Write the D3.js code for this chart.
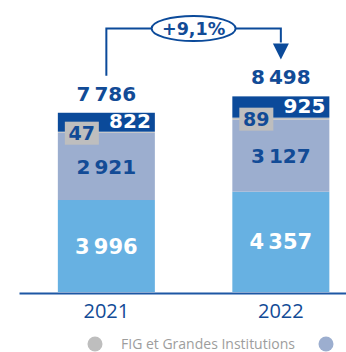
<!DOCTYPE html>
<html>
<head>
<meta charset="utf-8">
<script src="https://cdn.jsdelivr.net/npm/d3@7"></script>
<style>
  html, body { margin: 0; padding: 0; background: #fff; }
  svg { display: block; }
</style>
</head>
<body>
<svg id="chart" width="346" height="352"></svg>
<script>
// Stacked totals per year, bottom segment first
const years = ["2021", "2022"];
const bottomValues = [3996, 4357];
const middleValues = [2921, 3127];
const figValues = [47, 89];
const topValues = [822, 925];
const totals = [7786, 8498];
const growthLabel = "+9,1%";
const legendLabels = ["FIG et Grandes Institutions", ""];

const colors = {
  bottom: "#67b1e2",
  middle: "#9caecf",
  fig: "#bebebe",
  top: "#0b4a9a",
  text: "#124b96",
  axis: "#1d57a4",
  legendText: "#9d9d9d"
};
const boldFont = "'DejaVu Sans', sans-serif";
const regularFont = "'Open Sans', sans-serif";

const fr = d3.formatLocale({ decimal: ",", thousands: "\u2009", grouping: [3], currency: ["", " €"] });
const fmt = fr.format(",d");

const svg = d3.select("#chart");
const baseY = 292;

const x = d3.scaleBand()
  .domain(years)
  .range([19, 346])
  .paddingInner(0.444)
  .paddingOuter(0.159)
  .align(0.70);

const y = d3.scaleLinear()
  .domain([0, 9000])
  .range([baseY, baseY - 9000 * 0.02302]);

const keys = ["bottom", "middle", "fig", "top"];
const rows = years.map((yr, i) => ({
  year: yr,
  bottom: bottomValues[i],
  middle: middleValues[i],
  fig: figValues[i],
  top: topValues[i],
  total: totals[i]
}));

const stacked = d3.stack().keys(keys)(rows);

// Bar segments
svg.append("g")
  .selectAll("g")
  .data(stacked)
  .join("g")
  .attr("fill", d => colors[d.key])
  .selectAll("rect")
  .data(d => d)
  .join("rect")
  .attr("x", d => x(d.data.year))
  .attr("width", x.bandwidth())
  .attr("y", d => y(d[1]))
  .attr("height", d => y(d[0]) - y(d[1]));

const byKey = Object.fromEntries(stacked.map(s => [s.key, s]));

// Labels centred in the two large segments
function centreLabels(key, fill, size) {
  svg.append("g")
    .selectAll("text")
    .data(byKey[key])
    .join("text")
    .attr("x", d => x(d.data.year) + x.bandwidth() / 2)
    .attr("y", d => (y(d[0]) + y(d[1])) / 2)
    .attr("dy", "0.36em")
    .attr("text-anchor", "middle")
    .attr("font-family", boldFont)
    .attr("font-weight", "bold")
    .attr("font-size", size)
    .attr("fill", fill)
    .text(d => fmt(d.data[key]));
}
centreLabels("bottom", "#ffffff", 21);
centreLabels("middle", colors.text, 20);

// Top segment label, right aligned
svg.append("g")
  .selectAll("text")
  .data(byKey.top)
  .join("text")
  .attr("x", d => x(d.data.year) + x.bandwidth() - 4)
  .attr("y", d => (y(d[0]) + y(d[1])) / 2 - 1)
  .attr("dy", "0.36em")
  .attr("text-anchor", "end")
  .attr("font-family", boldFont)
  .attr("font-weight", "bold")
  .attr("font-size", 20)
  .attr("fill", "#ffffff")
  .text(d => fmt(d.data.top));

// FIG tag: small grey box with its value
const figTag = svg.append("g")
  .selectAll("g")
  .data(byKey.fig)
  .join("g")
  .attr("transform", d => `translate(${x(d.data.year) + 7},${y(d[1]) - 10})`);
figTag.append("rect")
  .attr("width", 34)
  .attr("height", 23)
  .attr("fill", colors.fig);
figTag.append("text")
  .attr("x", 17)
  .attr("y", 11.5)
  .attr("dy", "0.36em")
  .attr("text-anchor", "middle")
  .attr("font-family", boldFont)
  .attr("font-weight", "bold")
  .attr("font-size", 19)
  .attr("fill", colors.text)
  .text(d => fmt(d.data.fig));

// Totals above bars
svg.append("g")
  .selectAll("text")
  .data(rows)
  .join("text")
  .attr("x", d => x(d.year) + x.bandwidth() / 2)
  .attr("y", d => y(d.total) - 12)
  .attr("text-anchor", "middle")
  .attr("font-family", boldFont)
  .attr("font-weight", "bold")
  .attr("font-size", 20)
  .attr("fill", colors.text)
  .text(d => fmt(d.total));

// Growth connector between the two totals
const x1 = x(years[0]) + x.bandwidth() / 2;
const x2 = x(years[1]) + x.bandwidth() / 2;
const lineY = 28.5;
const conn = svg.append("g");
conn.append("path")
  .attr("d", `M${x1},${y(totals[0]) - 37}V${lineY}H${x2}V${y(totals[1]) - 54}`)
  .attr("fill", "none")
  .attr("stroke", colors.top)
  .attr("stroke-width", 2);
const tipY = y(totals[1]) - 37;
conn.append("path")
  .attr("d", `M${x2 - 8},${tipY - 16}L${x2 + 8},${tipY - 16}L${x2},${tipY}Z`)
  .attr("fill", colors.top);
const mid = (x1 + x2) / 2;
conn.append("ellipse")
  .attr("cx", mid)
  .attr("cy", lineY)
  .attr("rx", 42)
  .attr("ry", 12.5)
  .attr("fill", "#fff")
  .attr("stroke", colors.top)
  .attr("stroke-width", 2);
conn.append("text")
  .attr("x", mid)
  .attr("y", lineY)
  .attr("dy", "0.36em")
  .attr("text-anchor", "middle")
  .attr("font-family", boldFont)
  .attr("font-weight", "bold")
  .attr("font-size", 17.5)
  .attr("fill", colors.text)
  .text(growthLabel);

// Category axis
const axis = svg.append("g")
  .attr("transform", `translate(0,${baseY + 1})`)
  .call(d3.axisBottom(x).tickSize(0).tickSizeOuter(0).tickPadding(11));
axis.select(".domain")
  .attr("stroke", colors.axis)
  .attr("stroke-width", 2);
axis.selectAll("text")
  .attr("font-family", regularFont)
  .attr("font-size", 20)
  .attr("fill", colors.text);

// Legend
const legend = svg.append("g");
legend.append("circle").attr("cx", 95).attr("cy", 344).attr("r", 7.5).attr("fill", colors.fig);
legend.append("text")
  .attr("x", 121)
  .attr("y", 348.5)
  .attr("font-family", regularFont)
  .attr("font-size", 14)
  .attr("fill", colors.legendText)
  .text(legendLabels[0]);
legend.append("circle").attr("cx", 326).attr("cy", 344).attr("r", 7.5).attr("fill", colors.middle);
</script>
</body>
</html>
